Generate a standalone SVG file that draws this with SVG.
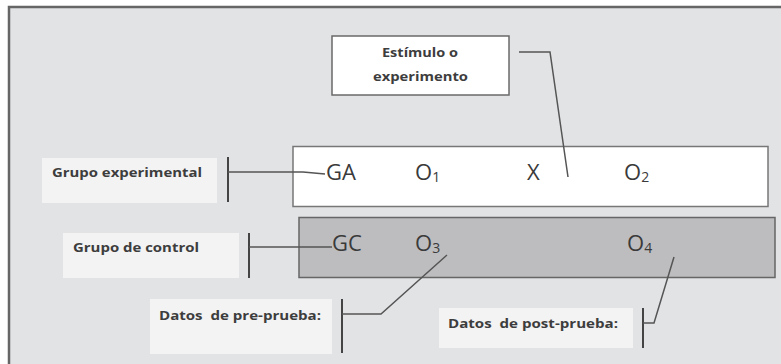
<svg xmlns="http://www.w3.org/2000/svg" width="781" height="364" viewBox="0 0 781 364">
<style>
.lbl{font-family:"Open Sans","Liberation Sans",sans-serif;font-weight:bold;font-size:13px;fill:#3d3d3d}
.big{font-family:"Open Sans","Liberation Sans",sans-serif;font-size:22px;fill:#3a3a3a}
.sub{font-size:14px}
.lbox{fill:#f3f3f4;stroke:none}
.con{fill:none;stroke:#555;stroke-width:1.5}
.tick{fill:none;stroke:#444;stroke-width:2}
</style>
<rect x="0" y="0" width="781" height="364" fill="#ffffff"/>
<rect x="9" y="7" width="790" height="380" fill="#e2e3e5" stroke="#666" stroke-width="2.5"/>
<g id="stimulus">
<rect x="332" y="36" width="177" height="59" fill="#fff" stroke="#6a6a6a" stroke-width="1.5"/>
<text class="lbl" x="420" y="57" text-anchor="middle" textLength="76" lengthAdjust="spacingAndGlyphs">Estímulo o</text>
<text class="lbl" x="420.5" y="81" text-anchor="middle" textLength="95" lengthAdjust="spacingAndGlyphs">experimento</text>
</g>
<g id="row-experimental">
<rect x="293" y="146.5" width="475" height="60" fill="#fff" stroke="#777" stroke-width="1.5"/>
<text class="big" x="326" y="180">GA</text>
<text class="big" x="415" y="180">O<tspan class="sub" dy="2">1</tspan></text>
<text class="big" x="527" y="180">X</text>
<text class="big" x="624" y="180">O<tspan class="sub" dy="2">2</tspan></text>
</g>
<g id="row-control">
<rect x="299" y="217.5" width="476" height="60" fill="#bdbdbf" stroke="#666" stroke-width="1.5"/>
<text class="big" x="332" y="251">GC</text>
<text class="big" x="415" y="251">O<tspan class="sub" dy="2">3</tspan></text>
<text class="big" x="627" y="251">O<tspan class="sub" dy="2">4</tspan></text>
</g>
<g id="label-experimental">
<rect class="lbox" x="42" y="158" width="175" height="45"/>
<text class="lbl" x="52" y="177" textLength="150" lengthAdjust="spacingAndGlyphs">Grupo experimental</text>
</g>
<g id="label-control">
<rect class="lbox" x="63" y="233" width="176" height="45"/>
<text class="lbl" x="73" y="252" textLength="126" lengthAdjust="spacingAndGlyphs">Grupo de control</text>
</g>
<g id="label-pre">
<rect class="lbox" x="150" y="299" width="182" height="55"/>
<text class="lbl" x="159" y="320" textLength="162" lengthAdjust="spacingAndGlyphs" xml:space="preserve">Datos  de pre-prueba:</text>
</g>
<g id="label-post">
<rect class="lbox" x="439" y="308" width="194" height="40"/>
<text class="lbl" x="448" y="328" textLength="170" lengthAdjust="spacingAndGlyphs" xml:space="preserve">Datos  de post-prueba:</text>
</g>
<g id="connectors">
<path class="con" d="M519 52 H550 L568 177"/>
<line class="tick" x1="228" y1="157" x2="228" y2="202"/>
<path class="con" d="M228 172 H303 L325 174"/>
<line class="tick" x1="249" y1="233" x2="249" y2="278"/>
<path class="con" d="M249 247 H332"/>
<line class="tick" x1="342" y1="299" x2="342" y2="353"/>
<path class="con" d="M342 314 H381 L447 255"/>
<line class="tick" x1="643" y1="308" x2="643" y2="348"/>
<path class="con" d="M643 323 H654 L674 257"/>
</g>
</svg>
